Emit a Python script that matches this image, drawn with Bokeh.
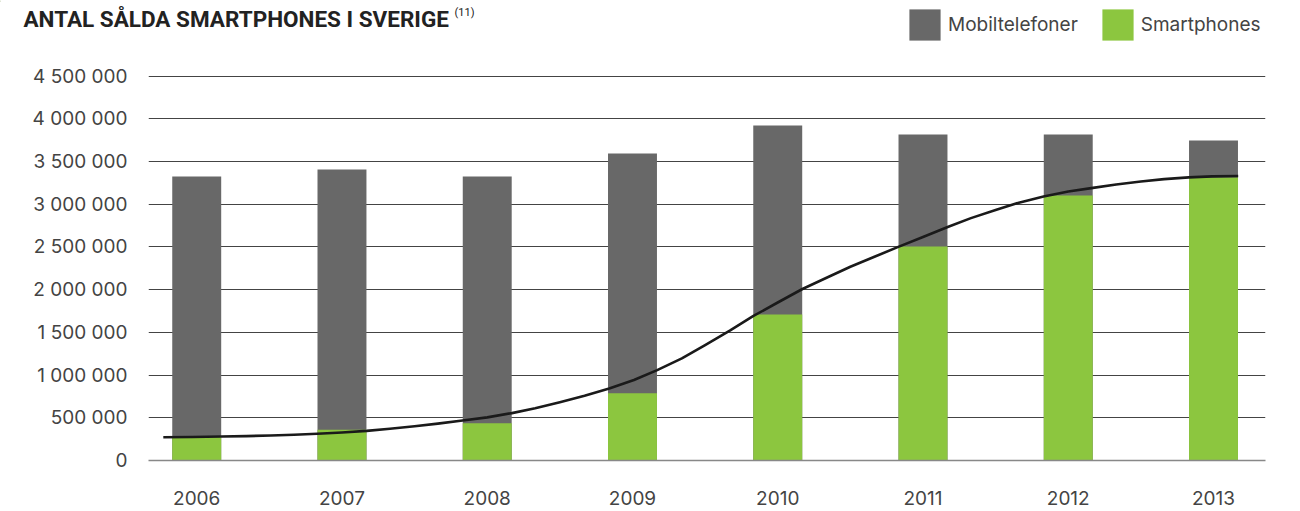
from bokeh.plotting import figure
from bokeh.layouts import column
from bokeh.models import (Range1d, FixedTicker, Label, Legend, LegendItem, ColumnDataSource)
from bokeh.embed import file_html
from bokeh.resources import INLINE

# ---- data ----
years = [2006, 2007, 2008, 2009, 2010, 2011, 2012, 2013]
year_labels = ["2006", "2007", "2008", "2009", "2010", "2011", "2012", "2013"]
mobiltelefoner = [3326000, 3408000, 3326000, 3595000, 3923000, 3817000, 3817000, 3747000]
smartphones = [275000, 360000, 437000, 788000, 1710000, 2506000, 3103000, 3314000]

trend_x = [2005.77, 2005.97, 2006.17, 2006.34, 2006.51, 2006.67, 2006.83, 2007.00,
           2007.17, 2007.33, 2007.50, 2007.66, 2007.83, 2008.00, 2008.17, 2008.33,
           2008.50, 2008.67, 2008.84, 2009.01, 2009.17, 2009.34, 2009.50, 2009.67,
           2009.83, 2010.00, 2010.17, 2010.34, 2010.50, 2010.67, 2010.83, 2011.00,
           2011.17, 2011.33, 2011.50, 2011.66, 2011.83, 2012.00, 2012.17, 2012.33,
           2012.50, 2012.66, 2012.83, 2012.99, 2013.17]
trend_y = [273000, 276000, 281000, 286000, 293000, 302000, 314000, 328000,
           347000, 371000, 401000, 432000, 468000, 505000, 555000, 611000,
           682000, 758000, 842000, 942000, 1058000, 1195000, 1352000, 1521000,
           1690000, 1850000, 2008000, 2143000, 2269000, 2388000, 2502000, 2617000,
           2734000, 2838000, 2934000, 3019000, 3091000, 3150000, 3192000, 3232000,
           3267000, 3295000, 3315000, 3327000, 3331000]

y_ticks = [0, 500000, 1000000, 1500000, 2000000, 2500000, 3000000, 3500000, 4000000, 4500000]
y_tick_labels = ["0", "500 000", "1 000 000", "1 500 000", "2 000 000", "2 500 000",
                 "3 000 000", "3 500 000", "4 000 000", "4 500 000"]

title_text = "ANTAL SÅLDA SMARTPHONES I SVERIGE"
title_note = "(11)"
series_names = ["Mobiltelefoner", "Smartphones"]

GREY = "#686868"
GREEN = "#8cc63f"
TEXT = "#444444"
FONT = "Inter"

# ---- header (title + legend) ----
head = figure(width=1300, height=56, x_range=Range1d(0, 1300), y_range=Range1d(56, 0),
              x_axis_type=None, y_axis_type=None, output_backend="svg",
              toolbar_location=None, min_border=0)
head.frame_align = False
head.outline_line_color = None
head.grid.visible = False
head.add_layout(Label(x=23, y=18, text=title_text, text_font="Roboto",
                      text_font_style="bold", text_font_size="22.5px",
                      text_color="#222222", text_baseline="alphabetic"))
head.add_layout(Label(x=454, y=12, text=title_note, text_font="Roboto",
                      text_font_size="11px", text_color="#222222",
                      text_baseline="alphabetic"))
g1 = head.vbar(x=[-500], top=[0], bottom=[1], width=1, fill_color=GREY, line_color=None)
g2 = head.vbar(x=[-500], top=[0], bottom=[1], width=1, fill_color=GREEN, line_color=None)
legend = Legend(items=[LegendItem(label=series_names[0], renderers=[g1]),
                       LegendItem(label=series_names[1], renderers=[g2])],
                orientation="horizontal", location=(905, 12),
                glyph_width=39, glyph_height=39, label_standoff=4, spacing=20,
                padding=0, margin=0, border_line_color=None, background_fill_alpha=0,
                label_text_font=FONT, label_text_font_size="19px", label_text_color=TEXT)
head.add_layout(legend)

# ---- main chart ----
p = figure(width=1300, height=455,
           x_range=Range1d(2005.668, 2013.358), y_range=Range1d(0, 4683800),
           output_backend="svg", toolbar_location=None,
           min_border_left=148, min_border_right=35, min_border_top=4, min_border_bottom=51)
p.frame_align = False
p.outline_line_color = None
p.background_fill_color = "white"
p.border_fill_color = "white"

p.xgrid.visible = False
p.yaxis.ticker = FixedTicker(ticks=y_ticks)
p.yaxis.major_label_overrides = {t: l for t, l in zip(y_ticks, y_tick_labels)}
p.yaxis.axis_line_color = None
p.yaxis.major_tick_line_color = None
p.yaxis.minor_tick_line_color = None
p.yaxis.major_label_standoff = 15
p.yaxis.major_label_text_font = FONT
p.yaxis.major_label_text_font_size = "19px"
p.yaxis.major_label_text_color = TEXT
p.ygrid.grid_line_color = "#444444"
p.ygrid.grid_line_width = 1

p.xaxis.ticker = FixedTicker(ticks=years)
p.xaxis.major_label_overrides = {y: l for y, l in zip(years, year_labels)}
p.xaxis.axis_line_color = "#888888"
p.xaxis.axis_line_width = 1.5
p.xaxis.major_tick_line_color = None
p.xaxis.minor_tick_line_color = None
p.xaxis.major_label_standoff = 24
p.xaxis.major_label_text_font = FONT
p.xaxis.major_label_text_font_size = "19px"
p.xaxis.major_label_text_color = TEXT

src = ColumnDataSource(dict(year=years, total=mobiltelefoner, smart=smartphones))
p.vbar(x="year", top="total", bottom=0, width=0.337, fill_color=GREY,
       line_color=None, source=src)
p.vbar(x="year", top="smart", bottom=0, width=0.337, fill_color=GREEN,
       line_color=None, source=src)
p.line(trend_x, trend_y, line_color="#1a1a1a", line_width=2.6, line_join="round")

layout = column(head, p, spacing=0)
open("out.html", "w").write(file_html(layout, INLINE))
